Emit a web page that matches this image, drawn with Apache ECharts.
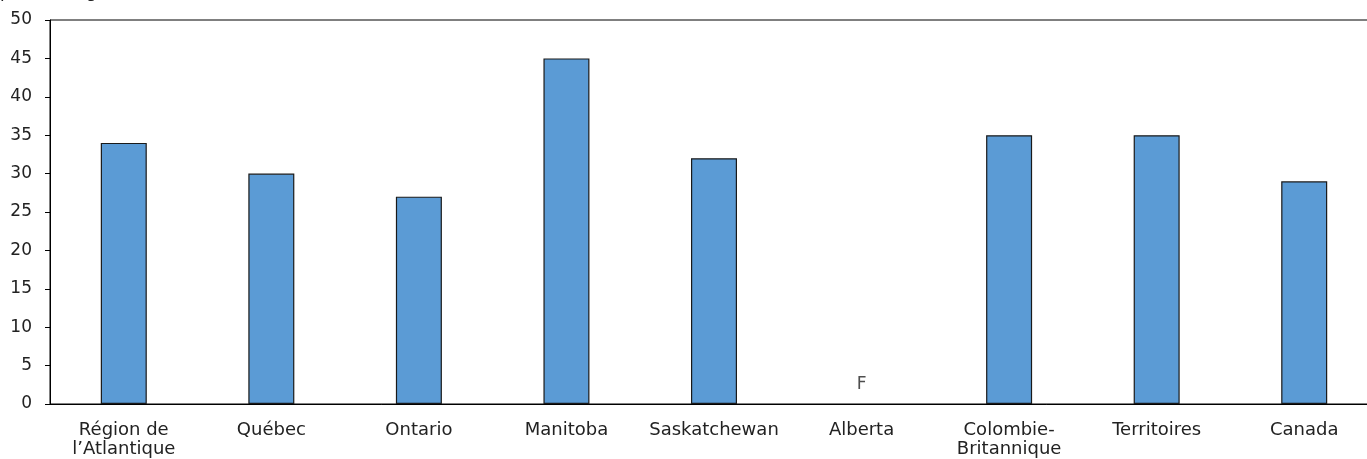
<!DOCTYPE html>
<html>
<head>
<meta charset="utf-8">
<script src="https://cdn.jsdelivr.net/npm/echarts@6/dist/echarts.min.js"></script>
<style>
  html, body { margin: 0; padding: 0; background: #fff; overflow: hidden; width: 1367px; height: 459px; }
  #frame { position: relative; width: 1367px; height: 459px; overflow: hidden; }
  /* plot area runs slightly past the right edge of the frame */
  #chart { position: absolute; left: 0; top: 0; width: 1380px; height: 459px; }
</style>
</head>
<body>
<div id="frame"><div id="chart"></div></div>
<script>
// Provinces / regions along the category axis
const categories = ['Région de\nl\u2019Atlantique', 'Québec', 'Ontario', 'Manitoba', 'Saskatchewan', 'Alberta', 'Colombie-\nBritannique', 'Territoires', 'Canada'];
// Percentages; Alberta is suppressed (F = too unreliable to publish)
const percentages = [34, 30, 27, 45, 32, null, 35, 35, 29];
// Flag shown in place of suppressed values
const flags = ['', '', '', '', '', 'F', '', '', ''];
const yTicks = { min: 0, max: 50, interval: 5 };

const font = '"DejaVu Sans", Verdana, sans-serif';
const chart = echarts.init(document.getElementById('chart'));

const flagPoints = [];
flags.forEach((f, i) => { if (f) flagPoints.push({ value: [i, 0], flag: f }); });

chart.setOption({
  animation: false,
  backgroundColor: '#fff',
  graphic: [{
    type: 'text', left: 0, top: -16,
    style: { text: 'pourcentage', font: '17px ' + font, fill: '#222' }
  }],
  grid: {
    left: 50, width: 1328, top: 20, height: 386,
    show: true, borderColor: '#000', borderWidth: 1, backgroundColor: 'transparent'
  },
  xAxis: {
    type: 'category',
    data: categories,
    axisLine: { lineStyle: { color: '#000', width: 1 } },
    axisTick: { show: false },
    axisLabel: { color: '#222', fontFamily: font, fontSize: 18, margin: 17, lineHeight: 19, interval: 0 }
  },
  yAxis: {
    type: 'value',
    min: yTicks.min, max: yTicks.max, interval: yTicks.interval,
    axisLine: { show: true, lineStyle: { color: '#000', width: 1 } },
    axisTick: { show: true, length: 5, lineStyle: { color: '#000' } },
    axisLabel: { color: '#222', fontFamily: font, fontSize: 17, margin: 18 },
    splitLine: { show: false }
  },
  series: [{
    type: 'bar',
    data: percentages,
    barWidth: 46,
    itemStyle: { color: '#5b9bd5', borderColor: '#1a1a1a', borderWidth: 1.2 }
  }, {
    type: 'scatter',
    data: flagPoints,
    symbolSize: 0,
    label: {
      show: true, position: 'top', distance: 11,
      formatter: p => p.data.flag,
      color: '#222', fontFamily: font, fontSize: 17
    }
  }]
});
</script>
</body>
</html>
